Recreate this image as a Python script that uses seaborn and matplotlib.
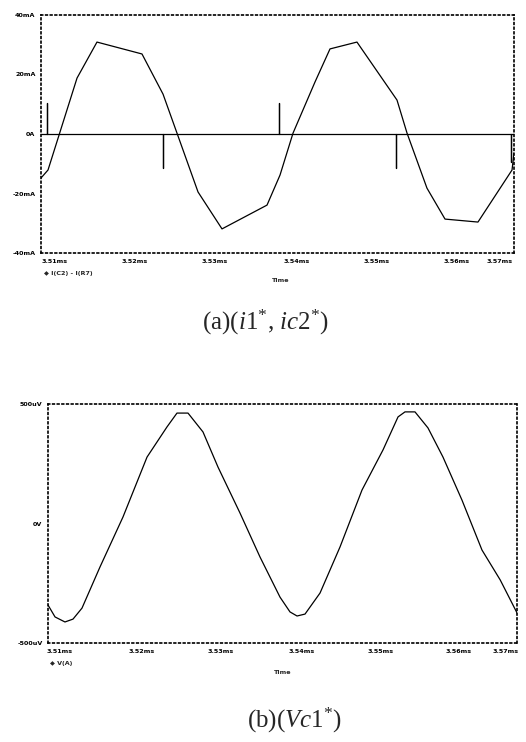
import numpy as np
import pandas as pd
import matplotlib
matplotlib.use("Agg")
import matplotlib.pyplot as plt
import seaborn as sns

# ---------------- data ----------------
# (a) current I(C2) - I(R7), time in ms, value in mA
t_a = [3.51000, 3.51089, 3.51457, 3.51710, 3.52281, 3.52548, 3.52725, 3.52992,
       3.53296, 3.53867, 3.54032, 3.54197, 3.54476, 3.54666, 3.55008, 3.55516,
       3.55643, 3.55896, 3.56125, 3.56543, 3.56975, 3.57000]
i_a = [-14.8, -12.1, 18.8, 30.9, 26.9, 13.4, 0.3, -19.5,
       -31.9, -23.9, -13.8, 0.3, 17.5, 28.6, 30.9, 11.4,
       0.3, -18.2, -28.6, -29.6, -12.1, -6.4]

# second trace: zero with switching spikes
t_s = [3.51000, 3.51076, 3.51076, 3.51076, 3.52548, 3.52548, 3.52548,
       3.54019, 3.54019, 3.54019, 3.55503, 3.55503, 3.55503,
       3.56962, 3.56962, 3.56962, 3.57000]
i_s = [0.0, 0.0, 10.4, 0.0, 0.0, -11.4, 0.0,
       0.0, 10.4, 0.0, 0.0, -11.4, 0.0,
       0.0, -9.4, 0.0, 0.0]

# (b) capacitor voltage V(A), time in ms, value in uV
t_b = [3.51000, 3.51090, 3.51217, 3.51320, 3.51435, 3.51665, 3.51959, 3.52267,
       3.52522, 3.52650, 3.52791, 3.52983, 3.53175, 3.53456, 3.53712, 3.53968,
       3.54096, 3.54186, 3.54288, 3.54480, 3.54736, 3.55017, 3.55286, 3.55478,
       3.55567, 3.55695, 3.55861, 3.56053, 3.56296, 3.56552, 3.56785, 3.57000]
v_b = [-341, -391, -412, -400, -354, -182, 27, 278,
       404, 462, 462, 383, 236, 44, -140, -308,
       -370, -387, -379, -291, -98, 140, 308, 446,
       467, 467, 400, 278, 98, -111, -236, -374]

xtick_a_pos = [3.51178, 3.52192, 3.53207, 3.54247, 3.55262, 3.56277, 3.56822]
xtick_b_pos = [3.51154, 3.52203, 3.53213, 3.54249, 3.55260, 3.56258, 3.56859]
xtick_labels = ["3.51ms", "3.52ms", "3.53ms", "3.54ms", "3.55ms", "3.56ms", "3.57ms"]

ytick_a = [-40, -20, 0, 20, 40]
ytick_a_labels = ["-40mA", "-20mA", "0A", "20mA", "40mA"]
ytick_b = [-500, 0, 500]
ytick_b_labels = ["-500uV", "0V", "500uV"]

legend_a = "\u25c6 I(C2) - I(R7)"
legend_b = "\u25c6 V(A)"
xlabel = "Time"
caption_a = r"(a)($i1^{*}$, $ic2^{*}$)"
caption_b = r"(b)($Vc1^{*}$)"

# ---------------- style ----------------
sns.set_style("white")
plt.rcParams["font.family"] = ["DejaVu Sans"]
plt.rcParams["mathtext.fontset"] = "custom"
plt.rcParams["mathtext.rm"] = "Liberation Serif"
plt.rcParams["mathtext.it"] = "Liberation Serif:italic"

W, H = 526, 742
fig = plt.figure(figsize=(W / 100, H / 100), dpi=100)
fig.patch.set_facecolor("white")

ax1 = fig.add_axes([41 / W, 1 - 253 / H, 473 / W, 238 / H])
ax2 = fig.add_axes([48 / W, 1 - 643 / H, 469 / W, 239 / H])

df_a = pd.DataFrame({"t": t_a, "i": i_a})
df_s = pd.DataFrame({"t": t_s, "i": i_s})
df_b = pd.DataFrame({"t": t_b, "v": v_b})

sns.lineplot(data=df_a, x="t", y="i", ax=ax1, color="black", lw=0.9,
             sort=False, estimator=None)
sns.lineplot(data=df_s, x="t", y="i", ax=ax1, color="black", lw=0.9,
             sort=False, estimator=None)
sns.lineplot(data=df_b, x="t", y="v", ax=ax2, color="black", lw=0.9,
             sort=False, estimator=None)

tick_font = dict(fontsize=4.6, fontweight="bold", color="black")

for ax, xt, yt, ytl, ylim in [
    (ax1, xtick_a_pos, ytick_a, ytick_a_labels, (-40, 40)),
    (ax2, xtick_b_pos, ytick_b, ytick_b_labels, (-500, 500)),
]:
    ax.set_xlim(3.51, 3.57)
    ax.set_ylim(*ylim)
    ax.set_xticks(xt)
    ax.set_xticklabels(xtick_labels, **tick_font)
    ax.set_yticks(yt)
    ax.set_yticklabels(ytl, **tick_font)
    ax.tick_params(axis="both", length=0, pad=4)
    ax.set_xlabel("")
    ax.set_ylabel("")
    for sp in ax.spines.values():
        sp.set_visible(True)
        sp.set_color("black")
        sp.set_linewidth(1.2)
        sp.set_linestyle((0, (1, 1.8)))
    ax.set_facecolor("white")

# legend text and axis title (PSpice style)
fig.text(44 / W, 1 - 274 / H, legend_a, fontsize=4.6, fontweight="bold", va="center")
fig.text(281 / W, 1 - 281 / H, xlabel, fontsize=4.6, fontweight="bold",
         ha="center", va="center")
fig.text(50 / W, 1 - 663 / H, legend_b, fontsize=4.6, fontweight="bold", va="center")
fig.text(283 / W, 1 - 672 / H, xlabel, fontsize=4.6, fontweight="bold",
         ha="center", va="center")

# captions
fig.text(265 / W, 1 - 322 / H, caption_a, fontsize=18, ha="center", va="center",
         family="Liberation Serif")
fig.text(295 / W, 1 - 720 / H, caption_b, fontsize=18, ha="center", va="center",
         family="Liberation Serif")

fig.savefig("out.png", dpi=100, facecolor="white")
